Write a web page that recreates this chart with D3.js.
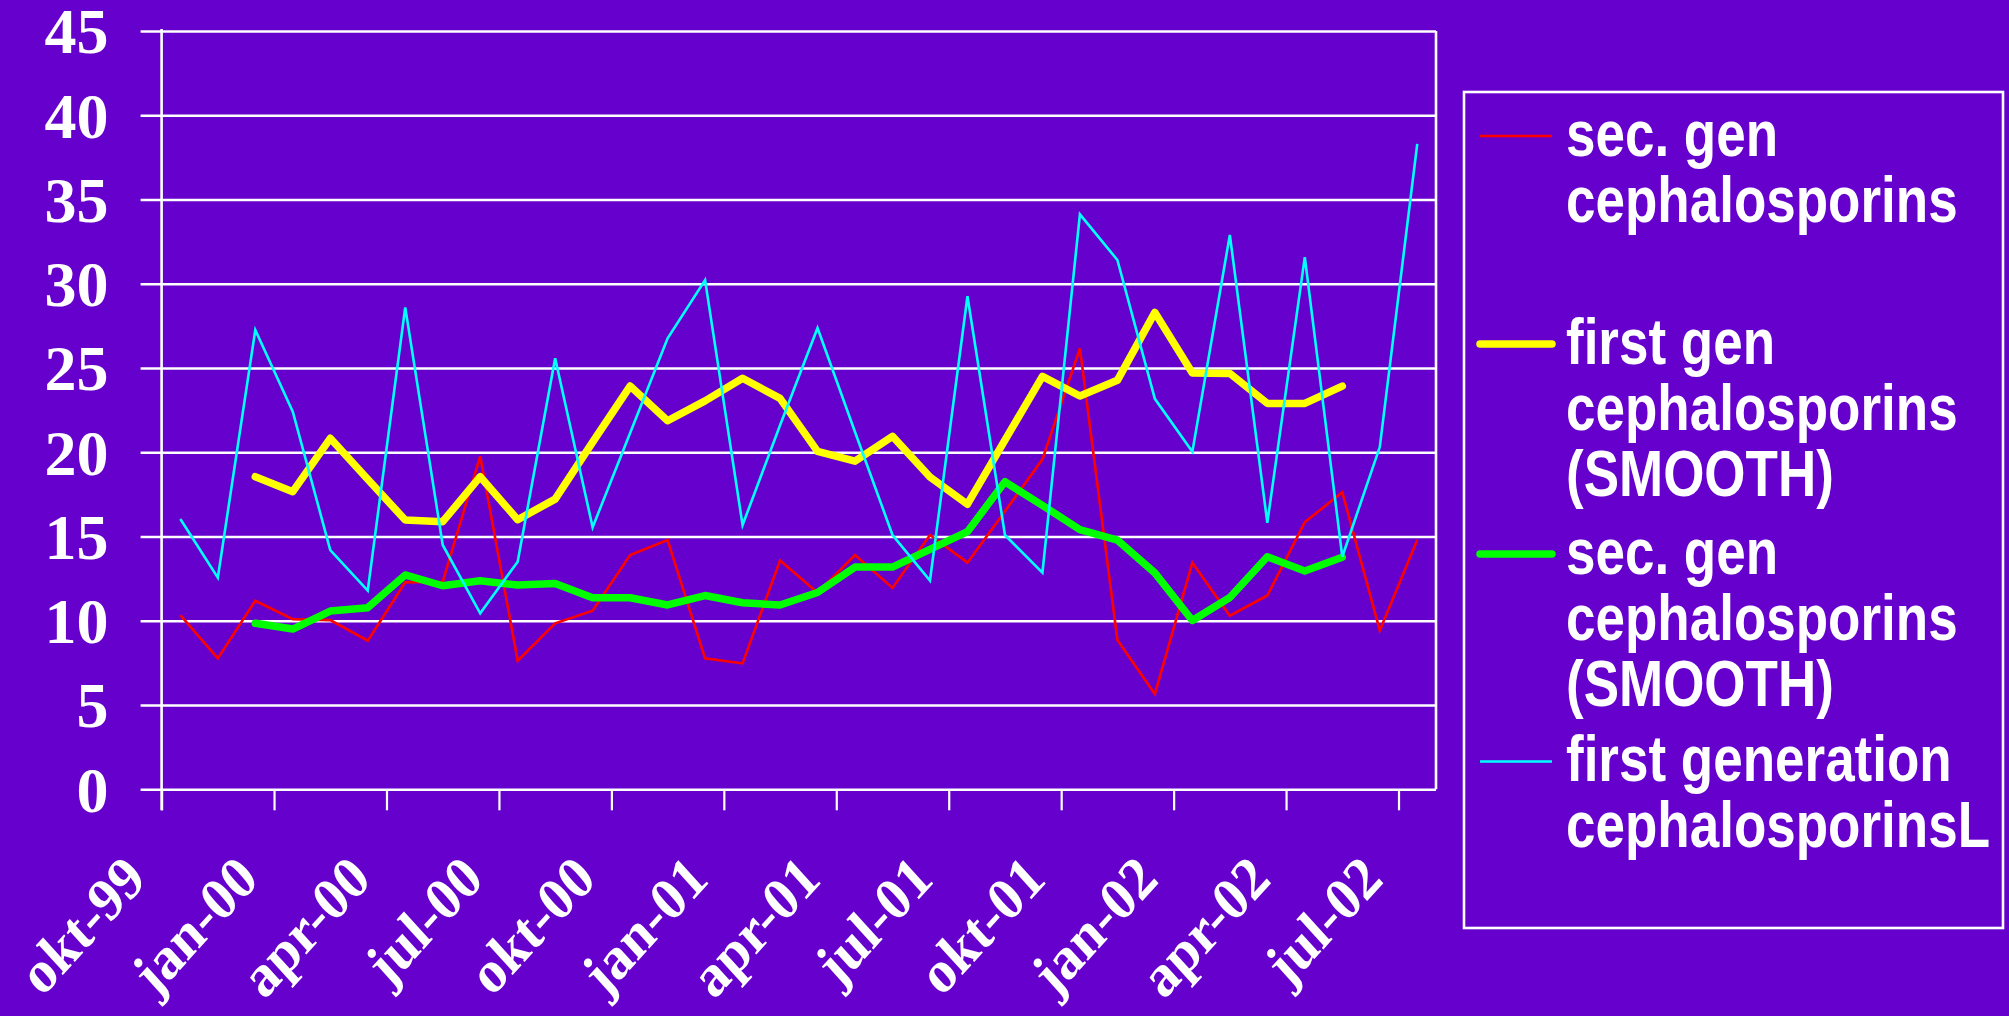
<!DOCTYPE html>
<html><head><meta charset="utf-8">
<script src="https://cdn.jsdelivr.net/npm/d3@7"></script>
<style>html,body{margin:0;padding:0;background:#6600cc;overflow:hidden}</style>
</head><body><svg id="c" width="2009" height="1016"></svg>
<script>
// ---- data ----
const months = ["okt-99","nov-99","dec-99","jan-00","feb-00","mrt-00","apr-00","mei-00","jun-00","jul-00","aug-00","sep-00",
  "okt-00","nov-00","dec-00","jan-01","feb-01","mrt-01","apr-01","mei-01","jun-01","jul-01","aug-01","sep-01",
  "okt-01","nov-01","dec-01","jan-02","feb-02","mrt-02","apr-02","mei-02","jun-02","jul-02"];
const tickMonths = ["okt-99","jan-00","apr-00","jul-00","okt-00","jan-01","apr-01","jul-01","okt-01","jan-02","apr-02","jul-02"];
const yTicks = [0,5,10,15,20,25,30,35,40,45];

const secGen = [10.34,7.77,11.19,10.1,10.04,8.82,12.28,12.32,19.76,7.63,9.85,10.6,13.9,14.79,7.77,7.47,13.58,11.67,13.9,11.95,15.09,13.45,16.5,19.58,26.17,8.86,5.66,13.45,10.3,11.5,15.85,17.63,9.43,14.8];
const firstGenSmooth = [null,null,18.55,17.66,20.83,18.4,15.98,15.88,18.55,16.0,17.22,20.6,23.93,21.87,23.05,24.39,23.2,20.05,19.47,20.95,18.53,16.92,20.72,24.5,23.34,24.27,28.3,24.7,24.68,22.9,22.9,23.93,null,null];
const secGenSmooth = [null,null,9.85,9.51,10.58,10.78,12.72,12.08,12.38,12.12,12.22,11.37,11.37,10.94,11.5,11.07,10.94,11.68,13.19,13.19,14.24,15.29,18.25,16.85,15.41,14.79,12.84,10.02,11.38,13.8,12.96,13.77,null,null];
const firstGenL = [16.04,12.56,27.26,22.41,14.2,11.79,28.6,14.5,10.44,13.51,25.58,15.55,21.15,26.76,30.22,15.68,21.6,27.37,21.2,15.09,12.39,29.26,15.09,12.86,34.12,31.41,23.17,20.03,32.9,15.82,31.58,13.8,20.31,38.3];

const seriesNames = [["sec. gen","cephalosporins"],["first gen","cephalosporins","(SMOOTH)"],["sec. gen","cephalosporins","(SMOOTH)"],["first generation","cephalosporinsL"]];
const seriesValues = [secGen, firstGenSmooth, secGenSmooth, firstGenL];
const seriesColors = ["#ff0000","#ffff00","#00ff00","#00ffff"];
const seriesWidths = [2.6, 7.5, 7.5, 2.6];

// ---- layout ----
const W = 2009, H = 1016;
const L = 161.6, R = 1436, T = 31, B = 789.3;
const svg = d3.select("#c");
svg.append("rect").attr("width", W).attr("height", H).attr("fill", "#6600cc");

const x = d3.scaleBand(months, [L, R]).paddingInner(0).paddingOuter(0);
const xIdx = d3.scaleLinear([0, months.length], [L, R]);
const y = d3.scaleLinear([0, 45], [B, T]);
const bw = x.bandwidth();

// y axis + gridlines
const gx0 = 140.6;
const yAxis = svg.append("g").attr("transform", `translate(${gx0},0)`)
  .call(d3.axisLeft(y).tickValues(yTicks).tickSize(-(R - gx0)).tickPadding(32));
yAxis.select(".domain").remove();
yAxis.selectAll(".tick line").attr("stroke", "#ffffff").attr("stroke-width", 2.6);
yAxis.selectAll(".tick text").attr("fill", "#ffffff")
  .attr("font-family", "'Liberation Serif','Times New Roman',serif").attr("font-weight", "bold")
  .attr("font-size", 64).attr("dy", "0.34em");

// x axis
const xAxis = svg.append("g").attr("transform", `translate(0,${B})`)
  .call(d3.axisBottom(xIdx).tickValues(tickMonths.map(m => months.indexOf(m)))
    .tickFormat(i => months[i]).tickSize(21));
xAxis.select(".domain").remove();
xAxis.selectAll(".tick line").attr("stroke", "#ffffff").attr("stroke-width", 2.2);
xAxis.selectAll(".tick text").attr("fill", "#ffffff")
  .attr("font-family", "'Liberation Serif','Times New Roman',serif").attr("font-weight", "bold")
  .attr("font-size", 55).attr("x", 0).attr("y", 0).attr("dy", 0)
  .attr("text-anchor", "end")
  .attr("transform", "translate(-14,92) scale(1,1.1) rotate(-45)");

// axis frame lines
svg.append("line").attr("x1", L).attr("x2", L).attr("y1", T - 2).attr("y2", B + 21)
  .attr("stroke", "#ffffff").attr("stroke-width", 2.6);
svg.append("line").attr("x1", R).attr("x2", R).attr("y1", T).attr("y2", B)
  .attr("stroke", "#ffffff").attr("stroke-width", 2.6);

// series
const line = d3.line().defined(d => d != null)
  .x((d, i) => x(months[i]) + bw / 2).y(d => y(d));
seriesValues.forEach((vals, s) => {
  svg.append("path").datum(vals).attr("d", line)
    .attr("fill", "none").attr("stroke", seriesColors[s]).attr("stroke-width", seriesWidths[s])
    .attr("stroke-linejoin", s === 1 || s === 2 ? "round" : "miter")
    .attr("stroke-linecap", s === 1 || s === 2 ? "round" : "butt");
});

// legend
svg.append("rect").attr("x", 1464).attr("y", 92).attr("width", 539).attr("height", 836)
  .attr("fill", "none").attr("stroke", "#ffffff").attr("stroke-width", 2.6);
const entryBase = [155.5, 363.5, 573.5, 781];
const lineH = 66;
seriesNames.forEach((lines, s) => {
  const by = entryBase[s];
  svg.append("line").attr("x1", 1480).attr("x2", 1552).attr("y1", by - 19.5).attr("y2", by - 19.5)
    .attr("stroke", seriesColors[s]).attr("stroke-width", seriesWidths[s])
    .attr("stroke-linecap", s === 1 || s === 2 ? "round" : "butt");
  lines.forEach((t, k) => {
    svg.append("text").attr("transform", `translate(1566,${by + k * lineH}) scale(1,1.22)`)
      .attr("fill", "#ffffff").attr("font-family", "'Liberation Sans',Arial,sans-serif")
      .attr("font-weight", "bold").attr("font-size", 53).text(t);
  });
});
</script>
</body></html>
